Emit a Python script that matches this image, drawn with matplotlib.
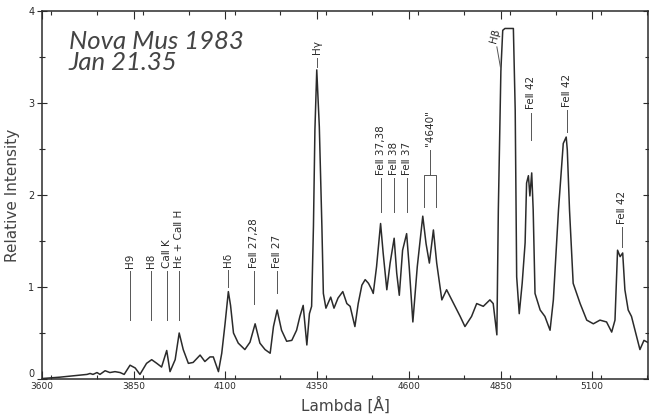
import numpy as np
import matplotlib
matplotlib.use("Agg")
import matplotlib.pyplot as plt
from matplotlib.ticker import MultipleLocator

# spectrum of Nova Mus 1983, relative intensity vs wavelength (Angstrom)
wavelength = [3600, 3649, 3723, 3731, 3739, 3750, 3758, 3772, 3785, 3799,
              3813, 3824, 3840, 3854, 3867, 3885, 3899, 3913, 3926, 3940,
              3949, 3963, 3974, 3985, 3999, 4012, 4031, 4044, 4058, 4067,
              4081, 4090, 4099, 4108, 4114, 4122, 4135, 4153, 4167, 4181,
              4194, 4208, 4222, 4231, 4241, 4253, 4267, 4281, 4294, 4303,
              4312, 4322, 4329, 4335, 4340, 4344, 4349, 4356, 4363, 4367,
              4374, 4387, 4396, 4407, 4420, 4431, 4440, 4453, 4462, 4472,
              4481, 4490, 4499, 4503, 4512, 4523, 4530, 4540, 4549, 4560,
              4567, 4574, 4583, 4594, 4601, 4611, 4623, 4638, 4647, 4656,
              4667, 4676, 4690, 4703, 4726, 4740, 4753, 4771, 4785, 4803,
              4821, 4830, 4840, 4844, 4851, 4856, 4862, 4885, 4890, 4894,
              4901, 4909, 4917, 4921, 4926, 4930, 4935, 4939, 4944, 4958,
              4971, 4985, 4994, 5008, 5021, 5029, 5032, 5038, 5048, 5067,
              5085, 5103, 5121, 5139, 5153, 5162, 5169, 5176, 5183, 5189,
              5198, 5207, 5221, 5230, 5241, 5255]
intensity = [0.005, 0.02, 0.05, 0.06, 0.05, 0.07, 0.05, 0.09, 0.07, 0.08,
             0.07, 0.05, 0.15, 0.12, 0.05, 0.17, 0.21, 0.17, 0.13, 0.31,
             0.08, 0.21, 0.50, 0.32, 0.17, 0.18, 0.26, 0.19, 0.24, 0.24,
             0.08, 0.28, 0.60, 0.95, 0.80, 0.50, 0.39, 0.32, 0.40, 0.60,
             0.39, 0.32, 0.28, 0.57, 0.75, 0.53, 0.41, 0.42, 0.53, 0.68,
             0.80, 0.37, 0.71, 0.79, 1.66, 2.71, 3.36, 2.74, 1.66, 0.93,
             0.77, 0.89, 0.77, 0.88, 0.95, 0.82, 0.79, 0.57, 0.82, 1.02,
             1.08, 1.04, 0.97, 0.93, 1.22, 1.69, 1.37, 0.97, 1.26, 1.53,
             1.15, 0.91, 1.40, 1.58, 1.22, 0.62, 1.22, 1.77, 1.47, 1.26,
             1.62, 1.26, 0.86, 0.97, 0.79, 0.68, 0.57, 0.68, 0.82, 0.79,
             0.86, 0.82, 0.48, 1.84, 3.36, 3.79, 3.81, 3.81, 2.92, 1.11,
             0.71, 1.04, 1.48, 2.13, 2.21, 1.99, 2.24, 1.84, 0.93, 0.75,
             0.68, 0.53, 0.86, 1.84, 2.56, 2.63, 2.49, 1.84, 1.04, 0.82,
             0.64, 0.60, 0.64, 0.62, 0.51, 0.64, 1.40, 1.33, 1.37, 0.97,
             0.75, 0.68, 0.46, 0.32, 0.42, 0.39]

# line identifications: label, wavelength, line bottom, line top
line_labels = ["H9", "H8", "CaⅡ K", "Hε + CaⅡ H", "Hδ", "FeⅡ 27,28", "FeⅡ 27",
               "Hγ", "FeⅡ 37,38", "FeⅡ 38", "FeⅡ 37",
               "FeⅡ 42", "FeⅡ 42", "FeⅡ 42"]
line_wave = [3840, 3897, 3940, 3974, 4108, 4179, 4240,
             4349, 4523, 4560, 4596,
             4932, 5030, 5180]
line_low = [0.64, 0.64, 0.64, 0.64, 1.00, 0.82, 0.93,
            3.39, 1.82, 1.82, 1.82,
            2.60, 2.68, 1.43]
line_high = [1.17, 1.17, 1.17, 1.17, 1.18, 1.17, 1.17,
             3.49, 2.18, 2.18, 2.18,
             2.89, 2.92, 1.65]

# "4640" blend bracket
blend_left, blend_right = 4640, 4674
blend_low, blend_bar, blend_stem = 1.87, 2.22, 2.49

ink = "#2b2b2b"
plt.rcParams['font.family'] = ['DejaVu Sans']

fig = plt.figure(figsize=(6.49, 4.18), dpi=100)
ax = fig.add_axes([42 / 649, 39 / 418, 606 / 649, 368 / 418])

ax.plot(wavelength, intensity, color=ink, lw=1.1)

for lab, w, lo, hi in zip(line_labels, line_wave, line_low, line_high):
    ax.plot([w, w], [lo, hi], color="#555555", lw=0.7)
    ax.text(w, hi + 0.04, lab, rotation=90, ha="center", va="bottom",
            fontsize=7.5, color=ink)

# bracket for the 4640 blend
ax.plot([blend_left, blend_left, blend_right, blend_right],
        [blend_low, blend_bar, blend_bar, blend_low], color="#555555", lw=0.7)
mid = (blend_left + blend_right) / 2
ax.plot([mid, mid], [blend_bar, blend_stem], color="#555555", lw=0.7)
ax.text(mid, blend_stem + 0.04, '"4640"', rotation=90, ha="center",
        va="bottom", fontsize=7.5, color=ink)

# H-beta is off scale, label it with a slanted leader
ax.plot([4840, 4851], [3.61, 3.36], color="#555555", lw=0.7)
ax.text(4834, 3.64, "Hβ", rotation=75, ha="center", va="bottom",
        fontsize=7.5, color=ink)

ax.text(3673, 3.79, "Nova Mus 1983\nJan 21.35", fontsize=18.5,
        family=["Lato", "DejaVu Sans"], style="italic", fontweight="normal",
        color="#444444", ha="left", va="top", linespacing=0.9)

ax.set_xlim(3600, 5252)
ax.set_ylim(0, 4)
ax.set_xticks(np.arange(3600, 5101, 250))
ax.xaxis.set_minor_locator(MultipleLocator(125))
ax.set_yticks([0, 1, 2, 3, 4])
ax.yaxis.set_minor_locator(MultipleLocator(0.5))
ax.tick_params(axis="x", which="both", direction="in", top=True,
               labelsize=6.5, pad=2, colors=ink)
ax.tick_params(axis="x", which="major", length=6, width=0.8)
ax.tick_params(axis="x", which="minor", length=3, width=0.8)
ax.tick_params(axis="y", which="both", direction="inout", right=True,
               labelsize=7, pad=2, colors=ink)
ax.tick_params(axis="y", which="major", length=7, width=0.8)
ax.tick_params(axis="y", which="minor", length=4, width=0.8)
for sp in ax.spines.values():
    sp.set_linewidth(1.1)
    sp.set_color(ink)

# keep the zero label clear of the first wavelength label
ax.get_yticklabels()[0].set_va("bottom")

ax.set_xlabel("Lambda [Å]", fontsize=11, color="#444444", labelpad=4)
ax.set_ylabel("Relative Intensity", fontsize=11, color="#444444", labelpad=6)

fig.savefig("out.png", dpi=100)
